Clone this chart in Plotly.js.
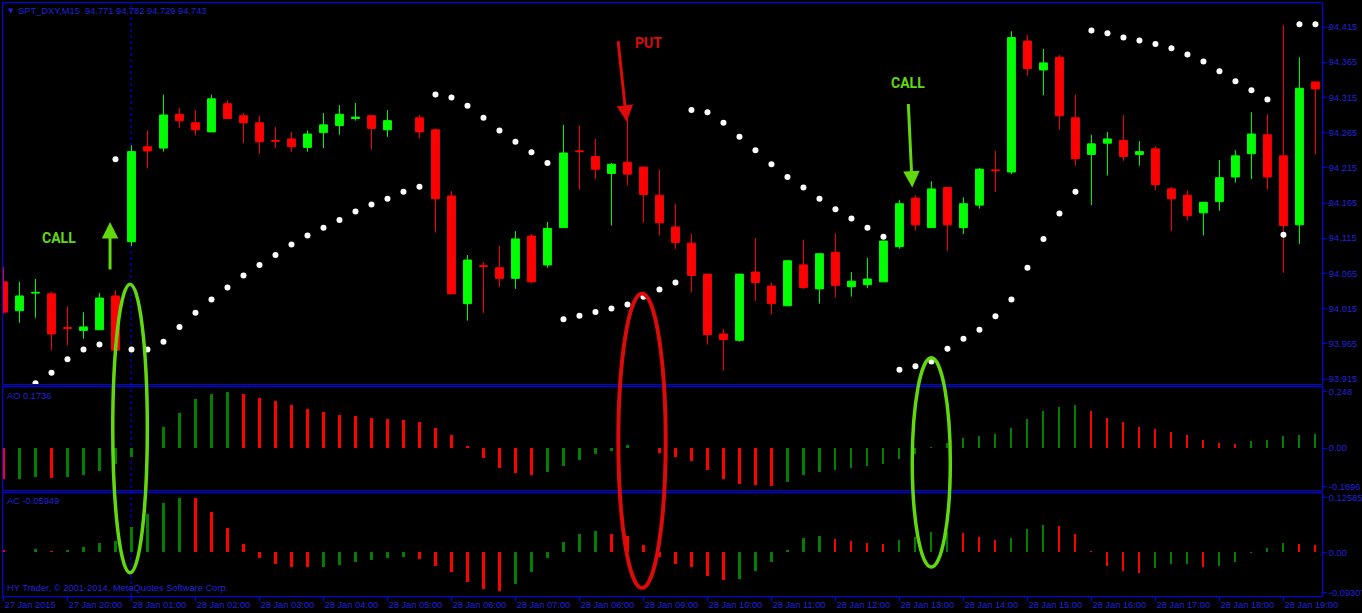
<!DOCTYPE html>
<html>
<head>
<meta charset="utf-8">
<script src="https://cdn.plot.ly/plotly-3.0.1.min.js"></script>
<style>
html,body{margin:0;padding:0;background:#000;overflow:hidden;}
#chart{width:1362px;height:613px;}
</style>
</head>
<body>
<div id="chart"></div>
<script>
// ---- data ----
const timeTickBars = [0,4,8,12,16,20,24,28,32,36,40,44,48,52,56,60,64,68,72,76,80];
const timeTickLabels = ["27 Jan 2015","27 Jan 20:00","28 Jan 01:00","28 Jan 02:00","28 Jan 03:00","28 Jan 04:00","28 Jan 05:00","28 Jan 06:00","28 Jan 07:00","28 Jan 08:00","28 Jan 09:00","28 Jan 10:00","28 Jan 11:00","28 Jan 12:00","28 Jan 13:00","28 Jan 14:00","28 Jan 15:00","28 Jan 16:00","28 Jan 17:00","28 Jan 18:00","28 Jan 19:00"];
const priceTicks = [93.915,93.965,94.015,94.065,94.115,94.165,94.215,94.265,94.315,94.365,94.415];
const aoTicks = [0.248, 0, -0.1696];
const aoTickLabels = ["0.248","0.00","-0.1696"];
const acTicks = [0.12585, 0, -0.09307];
const acTickLabels = ["0.12585","0.00","-0.09307"];

const open = [94.053,94.012,94.037,94.036,93.988,93.984,93.985,94.033,94.110,94.245,
94.243,94.291,94.279,94.266,94.306,94.289,94.279,94.254,94.256,94.244,
94.265,94.275,94.285,94.289,94.269,null,94.286,94.269,94.175,94.022,
94.076,94.073,94.058,94.118,94.077,94.130,94.239,94.231,94.207,94.223,
94.216,94.176,94.131,94.108,94.064,93.979,93.970,94.067,94.047,94.019,
94.077,94.043,94.095,94.046,94.049,94.053,94.103,94.172,94.130,94.187,
94.130,94.162,94.212,94.209,94.395,94.354,94.372,94.286,94.234,94.250,
94.254,94.234,94.242,94.185,94.176,94.151,94.167,94.202,94.235,94.262,
94.232,94.134,94.337];
const high = [94.074,94.053,94.057,94.039,94.018,94.010,94.037,94.041,94.247,94.268,
94.319,94.300,94.297,94.319,94.311,94.293,94.289,94.273,94.266,94.268,
94.293,94.304,94.307,94.290,94.297,null,94.290,94.271,94.182,94.091,
94.081,94.104,94.125,94.121,94.138,94.276,94.275,94.256,94.222,94.285,
94.216,94.212,94.164,94.121,94.064,93.986,94.064,94.115,94.052,94.084,
94.113,94.093,94.122,94.067,94.087,94.111,94.169,94.176,94.196,94.187,
94.173,94.215,94.239,94.409,94.404,94.384,94.375,94.319,94.262,94.266,
94.290,94.253,94.246,94.188,94.183,94.166,94.226,94.240,94.294,94.291,
94.418,94.372,94.337];
const low = [94.008,93.995,94.002,93.956,93.963,93.972,93.985,93.956,94.104,94.214,
94.238,94.272,94.261,94.266,94.285,94.250,94.235,94.243,94.238,94.238,
94.243,94.262,94.282,94.241,94.259,null,94.257,94.123,94.036,93.998,
94.009,94.046,94.043,94.051,94.073,94.130,94.184,94.199,94.133,94.190,
94.137,94.119,94.100,94.038,93.964,93.927,93.968,94.026,94.007,94.019,
94.043,94.022,94.031,94.032,94.044,94.053,94.100,94.126,94.130,94.097,
94.121,94.157,94.181,94.206,94.346,94.318,94.269,94.218,94.162,94.204,
94.225,94.218,94.183,94.125,94.140,94.119,94.154,94.194,94.199,94.184,
94.066,94.107,94.234];
const close = [94.010,94.033,94.038,93.979,93.987,93.989,94.030,93.956,94.238,94.239,
94.290,94.282,94.269,94.313,94.285,94.279,94.252,94.253,94.245,94.263,
94.276,94.291,94.287,94.271,94.282,null,94.266,94.171,94.036,94.084,
94.075,94.058,94.114,94.053,94.129,94.236,94.238,94.213,94.220,94.206,
94.177,94.137,94.109,94.062,93.978,93.971,94.064,94.052,94.022,94.083,
94.045,94.093,94.048,94.054,94.057,94.111,94.164,94.134,94.185,94.134,
94.164,94.213,94.211,94.400,94.356,94.364,94.289,94.228,94.249,94.256,
94.231,94.238,94.191,94.171,94.147,94.166,94.201,94.232,94.263,94.202,
94.133,94.328,94.327];
const sar = [null,null,93.909,93.924,93.943,93.957,93.964,94.227,93.957,93.957,
93.968,93.989,94.009,94.028,94.045,94.062,94.077,94.091,94.106,94.119,
94.130,94.141,94.153,94.163,94.171,94.181,94.188,94.319,94.315,94.303,
94.286,94.268,94.252,94.237,94.222,94.000,94.005,94.010,94.015,94.021,
94.032,94.042,94.052,94.297,94.294,94.279,94.259,94.240,94.220,94.202,
94.187,94.171,94.156,94.143,94.130,94.117,93.928,93.933,93.940,93.958,
93.972,93.985,94.004,94.028,94.073,94.114,94.150,94.181,94.410,94.406,
94.400,94.396,94.391,94.385,94.376,94.366,94.352,94.338,94.325,94.312,
94.120,94.419,94.419];
const ao = [-0.138,-0.135,-0.128,-0.132,-0.128,-0.118,-0.101,-0.070,-0.040,0.030,
0.093,0.155,0.216,0.238,0.248,0.237,0.221,0.2075,0.191,0.172,
0.159,0.145,0.142,0.133,0.128,0.123,0.115,0.088,0.057,0.008,
-0.044,-0.088,-0.110,-0.118,-0.105,-0.079,-0.052,-0.025,-0.0135,0.0135,
0.002,-0.022,-0.039,-0.057,-0.096,-0.137,-0.159,-0.162,-0.167,-0.150,
-0.118,-0.105,-0.096,-0.088,-0.079,-0.071,-0.049,-0.025,0.003,0.022,
0.044,0.054,0.062,0.088,0.128,0.164,0.181,0.191,0.164,0.133,
0.115,0.093,0.084,0.071,0.057,0.035,0.022,0.0186,0.032,0.035,
0.054,0.057,0.062];
const ac = [0.006,0.002,0.007,0.003,0.005,0.0124,0.021,0.026,0.058,0.089,
0.113,0.1259,0.1255,0.093,0.056,0.019,-0.0125,-0.027,-0.033,-0.0332,
-0.0325,-0.028,-0.023,-0.018,-0.0125,-0.0107,-0.016,-0.030,-0.046,-0.068,
-0.084,-0.0886,-0.073,-0.045,-0.0124,0.024,0.0416,0.0487,0.0416,0.038,
0.017,-0.0106,-0.0275,-0.0337,-0.055,-0.064,-0.061,-0.0425,-0.022,0.0053,
0.033,0.037,0.030,0.0257,0.021,0.0186,0.028,0.0354,0.047,0.048,
0.0443,0.0354,0.028,0.033,0.054,0.063,0.060,0.0416,0.0027,-0.032,
-0.0434,-0.048,-0.036,-0.0275,-0.0272,-0.0337,-0.032,-0.022,-0.0018,0.0097,
0.021,0.0186,0.0168];

// ---- styling ----
const W = 1362, H = 613;
const BLUE = '#0000ff';
const TXT = '#2222dd';
const UP = '#00ff00', DN = '#ff0000', OSC_UP = '#008000', OSC_DN = '#ff0000';
const GREEN_MARK = '#62d80e', RED_MARK = '#dd0a0a';
const FONT = 'Liberation Sans';
const FS = 9.3;

const bars = open.map((_, i) => i);
function oscColors(v){ return v.map((x,i)=> i===0 ? OSC_DN : (x > v[i-1] ? OSC_UP : OSC_DN)); }

const px = v => v / W;           // pixel -> paper x
const py = v => 1 - v / H;       // pixel -> paper y

const traces = [
  {type:'candlestick', x:bars, open:open, high:high, low:low, close:close,
   xaxis:'x', yaxis:'y', whiskerwidth:0, hoverinfo:'skip',
   increasing:{line:{color:UP,width:1}, fillcolor:UP},
   decreasing:{line:{color:DN,width:1}, fillcolor:DN}},
  {type:'scatter', mode:'markers', x:bars, y:sar, xaxis:'x', yaxis:'y',
   marker:{color:'#ffffff', size:6}, hoverinfo:'skip'},
  {type:'bar', x:bars, y:ao, xaxis:'x2', yaxis:'y2', width:0.13,
   marker:{color:oscColors(ao), line:{width:0}}, hoverinfo:'skip'},
  {type:'bar', x:bars, y:ac, xaxis:'x3', yaxis:'y3', width:0.13,
   marker:{color:oscColors(ac), line:{width:0}}, hoverinfo:'skip'}
];

const xdom = [px(3), px(1322)];
const xr = [-0.03, 82.41];
const baseX = {domain:xdom, range:xr, showgrid:false, zeroline:false, showline:true, mirror:true,
  linecolor:BLUE, linewidth:1, showticklabels:false, ticks:'', fixedrange:true};
const baseY = {side:'right', showgrid:false, zeroline:false, showline:true, mirror:true,
  linecolor:BLUE, linewidth:1, ticks:'outside', ticklen:4, tickcolor:BLUE, tickwidth:1,
  tickfont:{family:FONT, size:FS, color:TXT}, fixedrange:true, tickmode:'array'};

const layout = {
  width:W, height:H, margin:{l:0,r:0,t:0,b:0},
  paper_bgcolor:'#000', plot_bgcolor:'#000', showlegend:false, hovermode:false,
  font:{family:FONT, color:TXT},
  bargap:0,
  xaxis: Object.assign({}, baseX, {anchor:'y', rangeslider:{visible:false}}),
  xaxis2: Object.assign({}, baseX, {anchor:'y2', matches:'x'}),
  xaxis3: Object.assign({}, baseX, {anchor:'y3', matches:'x', showticklabels:true,
    tickmode:'array', tickvals:timeTickBars, ticktext:timeTickLabels, ticks:'outside', ticklen:4,
    tickcolor:BLUE, ticklabelposition:'outside right',
    tickfont:{family:FONT, size:FS, color:TXT}}),
  yaxis: Object.assign({}, baseY, {anchor:'x', domain:[py(384), py(3)], range:[93.9079, 94.4491],
    tickvals:priceTicks, ticktext:priceTicks.map(v=>v.toFixed(3))}),
  yaxis2: Object.assign({}, baseY, {anchor:'x2', domain:[py(490.2), py(386.6)], range:[-0.1856, 0.2716],
    tickvals:aoTicks, ticktext:aoTickLabels}),
  yaxis3: Object.assign({}, baseY, {anchor:'x3', domain:[py(595.5), py(492.5)], range:[-0.0991, 0.1382],
    tickvals:acTicks, ticktext:acTickLabels}),
  shapes: [
    {type:'line', xref:'x', yref:'paper', x0:7.97, x1:7.97, y0:py(596), y1:py(3),
     line:{color:BLUE, width:1, dash:'3px,3px'}, layer:'below'},
    {type:'circle', xref:'x', yref:'paper', x0:6.83, x1:8.99, y0:py(572.8), y1:py(284.3),
     line:{color:GREEN_MARK, width:3.5}, layer:'above'},
    {type:'circle', xref:'x', yref:'paper', x0:38.43, x1:41.39, y0:py(588.1), y1:py(293.5),
     line:{color:RED_MARK, width:4}, layer:'above'},
    {type:'circle', xref:'x', yref:'paper', x0:56.80, x1:59.18, y0:py(567.1), y1:py(357.8),
     line:{color:GREEN_MARK, width:3.5}, layer:'above'}
  ],
  annotations: [
    {xref:'paper', yref:'paper', x:px(6), y:py(10.5), xanchor:'left', yanchor:'middle', showarrow:false,
     text:'▼', font:{family:'DejaVu Sans', size:7, color:TXT}},
    {xref:'paper', yref:'paper', x:px(16), y:py(10.7), xanchor:'left', yanchor:'middle', showarrow:false,
     text:'SPT_DXY,M15  94.771 94.782 94.729 94.743', font:{family:FONT, size:FS, color:TXT}},
    {xref:'paper', yref:'paper', x:px(5), y:py(395.7), xanchor:'left', yanchor:'middle', showarrow:false,
     text:'AO 0.1736', font:{family:FONT, size:FS, color:TXT}},
    {xref:'paper', yref:'paper', x:px(5), y:py(501), xanchor:'left', yanchor:'middle', showarrow:false,
     text:'AC -0.05949', font:{family:FONT, size:FS, color:TXT}},
    {xref:'paper', yref:'paper', x:px(5), y:py(588.3), xanchor:'left', yanchor:'middle', showarrow:false,
     text:'HY Trader, © 2001-2014, MetaQuotes Software Corp.', font:{family:FONT, size:FS, color:TXT}},
    // signal labels
    {xref:'x', yref:'y', x:3.47, y:94.115, showarrow:false, text:'<b>CALL</b>',
     font:{family:'Roboto', size:14, color:GREEN_MARK}},
    {xref:'x', yref:'y', x:40.34, y:94.392, showarrow:false, text:'<b>PUT</b>',
     font:{family:'Roboto', size:14, color:RED_MARK}},
    {xref:'x', yref:'y', x:56.56, y:94.335, showarrow:false, text:'<b>CALL</b>',
     font:{family:'Roboto', size:14, color:GREEN_MARK}},
    // arrows
    {xref:'x', yref:'y', x:6.66, y:94.138, ax:0, ay:49, text:'', showarrow:true,
     arrowhead:2, arrowsize:1.1, arrowwidth:3, arrowcolor:GREEN_MARK},
    {xref:'x', yref:'y', x:38.95, y:94.2805, ax:-8.7, ay:-82, text:'', showarrow:true,
     arrowhead:2, arrowsize:1.1, arrowwidth:3, arrowcolor:RED_MARK},
    {xref:'x', yref:'y', x:56.8, y:94.187, ax:-4, ay:-85, text:'', showarrow:true,
     arrowhead:2, arrowsize:1.1, arrowwidth:3, arrowcolor:GREEN_MARK}
  ]
};

Plotly.newPlot('chart', traces, layout, {staticPlot:true, displayModeBar:false});
</script>
</body>
</html>
